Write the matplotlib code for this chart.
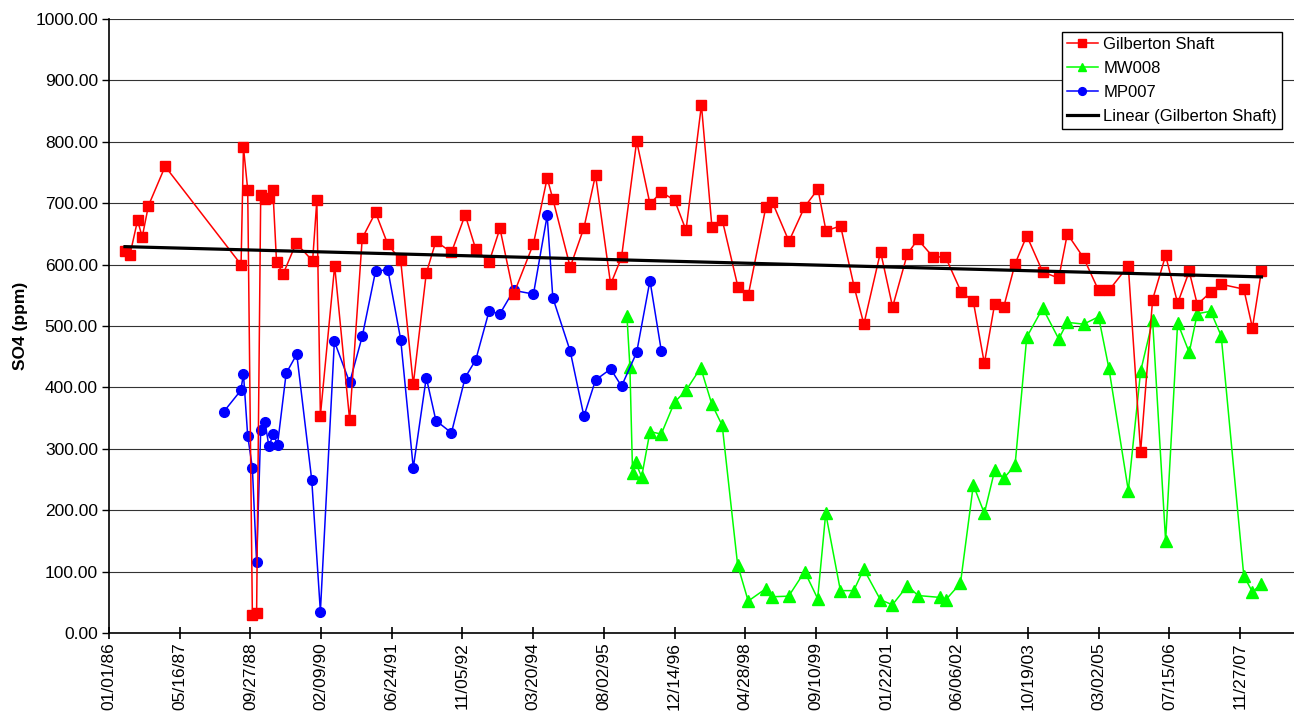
import numpy as np
import pandas as pd
import matplotlib
matplotlib.use("Agg")
import matplotlib.pyplot as plt
import matplotlib.dates as mdates

plt.rcParams['font.family'] = ['Liberation Sans', 'DejaVu Sans']

# sample dates are stored as days after 01/01/86
base = pd.Timestamp("1986-01-01")

gil_day = [113, 148, 202, 235, 279, 397, 934, 951, 981, 1014, 1044, 1073, 1101, 1134,
           1159, 1185, 1232, 1324, 1440, 1470, 1495, 1596, 1702, 1791, 1885, 1972, 2063,
           2152, 2244, 2312, 2422, 2519, 2594, 2688, 2765, 2862, 3002, 3099, 3139, 3262,
           3359, 3441, 3548, 3625, 3732, 3826, 3906, 4000, 4081, 4190, 4264, 4337, 4448,
           4521, 4646, 4691, 4809, 4920, 5014, 5071, 5174, 5271, 5339, 5457, 5542, 5646,
           5720, 5830, 5915, 6026, 6113, 6191, 6264, 6328, 6408, 6491, 6604, 6717, 6778,
           6893, 6999, 7072, 7209, 7296, 7381, 7473, 7558, 7640, 7697, 7791, 7866, 8026,
           8087, 8151]
gil_so4 = [622, 616, 672, 645, 696, 760, 600, 791, 722, 30, 33, 713, 707, 708,
           722, 604, 585, 635, 606, 705, 354, 598, 347, 643, 685, 633, 607,
           405, 586, 638, 620, 681, 625, 604, 659, 552, 634, 741, 707, 596,
           660, 746, 568, 612, 801, 699, 718, 705, 656, 860, 662, 673, 564,
           550, 694, 702, 638, 694, 723, 655, 663, 563, 503, 621, 531, 617,
           641, 612, 613, 556, 540, 439, 536, 531, 601, 647, 588, 578, 650,
           611, 558, 558, 598, 295, 543, 615, 537, 589, 535, 555, 568, 560,
           497, 590]

mw_day = [3663, 3684, 3703, 3725, 3767, 3826, 3906, 4000, 4081, 4185, 4263, 4337, 4446,
          4521, 4644, 4689, 4807, 4920, 5012, 5069, 5173, 5267, 5338, 5456, 5541, 5647,
          5722, 5876, 5918, 6022, 6113, 6191, 6264, 6328, 6408, 6491, 6604, 6717, 6778,
          6893, 6999, 7072, 7209, 7296, 7381, 7473, 7558, 7640, 7697, 7791, 7866, 8026,
          8087, 8151]
mw_so4 = [517, 434, 260, 278, 254, 328, 324, 376, 395, 432, 373, 338, 111,
          52, 72, 59, 60, 100, 56, 195, 69, 69, 104, 54, 46, 77,
          61, 58, 54, 81, 241, 195, 265, 252, 273, 482, 529, 479, 506,
          503, 515, 431, 232, 426, 509, 150, 505, 457, 520, 524, 484, 93,
          67, 80]

mp_day = [810, 932, 951, 981, 1014, 1044, 1073, 1103, 1131, 1162, 1192, 1253, 1328,
          1434, 1495, 1594, 1702, 1791, 1885, 1972, 2063, 2152, 2244, 2312, 2422, 2519,
          2594, 2688, 2765, 2862, 3002, 3099, 3139, 3262, 3359, 3441, 3548, 3625, 3732,
          3826, 3906]
mp_so4 = [360, 395, 422, 321, 269, 115, 330, 344, 304, 324, 307, 423, 454,
          249, 35, 475, 408, 483, 589, 592, 478, 269, 416, 346, 326, 416,
          445, 524, 520, 558, 552, 680, 546, 459, 353, 412, 430, 402, 457,
          574, 460]

tick_days = list(range(0, 8001, 500))


def to_num(days):
    return mdates.date2num(base + pd.to_timedelta(np.asarray(days), unit="D"))


fig = plt.figure(figsize=(12.94, 7.13), dpi=100)
ax = fig.add_axes([109 / 1294, 1 - 633 / 713, 1 - 109 / 1294, (633 - 19) / 713])

ax.plot(to_num(gil_day), gil_so4, color="#ff0000", lw=1.1, marker="s", ms=7.5,
        mec="#ff0000", mfc="#ff0000", label="Gilberton Shaft", zorder=4)
ax.plot(to_num(mw_day), mw_so4, color="#00ff00", lw=1.1, marker="^", ms=8,
        mec="#00ff00", mfc="#00ff00", label="MW008", zorder=3)
ax.plot(to_num(mp_day), mp_so4, color="#0000ff", lw=1.1, marker="o", ms=7,
        mec="#0000ff", mfc="#0000ff", label="MP007", zorder=3)

# linear trendline of Gilberton Shaft
k, b = np.polyfit(gil_day, gil_so4, 1)
tx = np.array([gil_day[0], gil_day[-1]])
ax.plot(to_num(tx), k * tx + b, color="black", lw=2.3,
        label="Linear (Gilberton Shaft)", zorder=5)

ax.set_xlim(to_num([0])[0], to_num([8381])[0])
ax.set_ylim(0, 1000)
ax.set_xticks(to_num(tick_days))
ax.xaxis.set_major_formatter(mdates.DateFormatter("%m/%d/%y"))
ax.set_yticks(np.arange(0, 1001, 100))
ax.yaxis.set_major_formatter(plt.FormatStrFormatter("%.2f"))
ax.grid(axis="y", color="#333333", lw=0.8)
ax.set_axisbelow(True)

for s in ["top", "right"]:
    ax.spines[s].set_visible(False)
ax.spines["left"].set_linewidth(1.2)
ax.spines["bottom"].set_linewidth(1.2)

ax.tick_params(axis="x", direction="inout", length=9, width=1.2, labelsize=12.5,
               labelrotation=90, pad=2)
ax.tick_params(axis="y", direction="out", length=5, width=1.0, labelsize=12.5, pad=3)

ax.set_ylabel("SO4 (ppm)", fontsize=12.5, fontweight="bold")
ax.yaxis.set_label_coords(-0.068, 0.5)

leg = ax.legend(loc="upper right", bbox_to_anchor=(1282 / 1294, 1 - 32 / 713),
                bbox_transform=fig.transFigure, borderaxespad=0, fontsize=12,
                frameon=True, fancybox=False, edgecolor="black", framealpha=1,
                handlelength=1.9, handletextpad=0.3, labelspacing=0.53,
                borderpad=0.3, markerscale=0.8)
leg.get_frame().set_linewidth(1.0)

fig.savefig("out.png", dpi=100)
